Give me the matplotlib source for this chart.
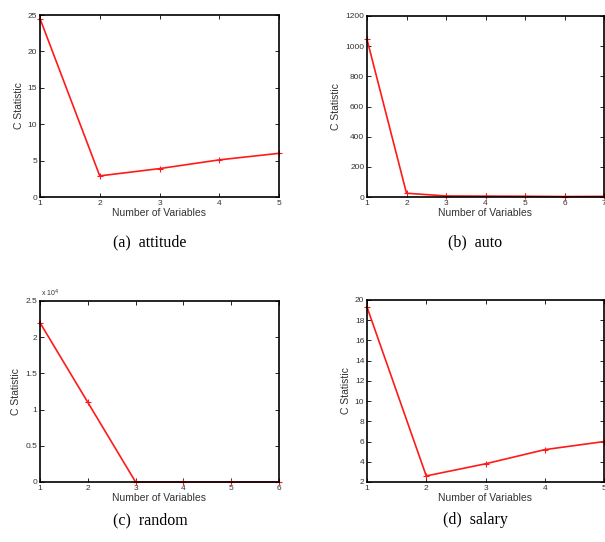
#!/usr/bin/env python3
"""C statistic vs number of variables for four datasets (2x2 panels)."""

import matplotlib
matplotlib.use("Agg")
import matplotlib.pyplot as plt
from matplotlib.ticker import FuncFormatter

W, H = 605, 542

# data
attitude_x = [1, 2, 3, 4, 5]
attitude_c = [24.5, 2.9, 3.9, 5.1, 6.0]

auto_x = [1, 2, 3, 4, 5, 6, 7]
auto_c = [1045, 25, 7, 6, 5, 3, 4]

random_x = [1, 2, 3, 4, 5, 6]
random_c = [22000, 11000, 0, 0, 0, 0]

salary_x = [1, 2, 3, 4, 5]
salary_c = [19.3, 2.6, 3.8, 5.2, 6.0]

captions = ["(a)  attitude", "(b)  auto", "(c)  random", "(d)  salary"]

# pixel boxes (left, right, top, bottom)
BOXES = [
    (40, 279, 15, 197),
    (367, 604, 16, 197),
    (40, 279, 301, 482),
    (367, 604, 300, 482),
]
CAPTION_POS = [(150, 242), (475, 242), (150, 520), (475, 520)]

plt.rcParams["font.family"] = ["Liberation Sans", "DejaVu Sans"]
TICK_COLOR = "#333333"
LINE_RED = "#ff1a1a"


def make_axes(fig, box):
    l, r, t, b = box
    return fig.add_axes([l / W, 1 - b / H, (r - l) / W, (b - t) / H])


def style(ax):
    ax.tick_params(direction="in", top=True, right=True, length=3, width=0.6,
                   labelsize=6, labelcolor=TICK_COLOR, pad=2)
    for s in ax.spines.values():
        s.set_linewidth(1.2)
    ax.set_xlabel("Number of Variables", fontsize=7.5, color=TICK_COLOR, labelpad=1)
    ax.set_ylabel("C Statistic", fontsize=7.5, color=TICK_COLOR, labelpad=3)


def draw(ax, x, y):
    ax.plot(x, y, color=LINE_RED, lw=1.2, marker="+", ms=4, mew=0.8, clip_on=False)


fig = plt.figure(figsize=(W / 100, H / 100), dpi=100)

ax_a = make_axes(fig, BOXES[0])
draw(ax_a, attitude_x, attitude_c)
ax_a.set_xlim(1, 5)
ax_a.set_ylim(0, 25)
ax_a.set_xticks(attitude_x)
ax_a.set_yticks([0, 5, 10, 15, 20, 25])
style(ax_a)

ax_b = make_axes(fig, BOXES[1])
draw(ax_b, auto_x, auto_c)
ax_b.set_xlim(1, 7)
ax_b.set_ylim(0, 1200)
ax_b.set_xticks(auto_x)
ax_b.set_yticks([0, 200, 400, 600, 800, 1000, 1200])
style(ax_b)

ax_c = make_axes(fig, BOXES[2])
draw(ax_c, random_x, random_c)
ax_c.set_xlim(1, 6)
ax_c.set_ylim(0, 25000)
ax_c.set_xticks(random_x)
ax_c.set_yticks([0, 5000, 10000, 15000, 20000, 25000])
ax_c.yaxis.set_major_formatter(FuncFormatter(lambda v, _: f"{v / 1e4:g}"))
ax_c.text(0.005, 1.01, r"x 10$^4$", transform=ax_c.transAxes, fontsize=5,
          color=TICK_COLOR, ha="left", va="bottom")
style(ax_c)

ax_d = make_axes(fig, BOXES[3])
draw(ax_d, salary_x, salary_c)
ax_d.set_xlim(1, 5)
ax_d.set_ylim(2, 20)
ax_d.set_xticks(salary_x)
ax_d.set_yticks(range(2, 21, 2))
style(ax_d)

for text, (cx, cy) in zip(captions, CAPTION_POS):
    fig.text(cx / W, 1 - cy / H, text, ha="center", va="center",
             fontsize=11.5, family=["Liberation Serif", "DejaVu Serif"])

fig.savefig("out.png", dpi=100)
